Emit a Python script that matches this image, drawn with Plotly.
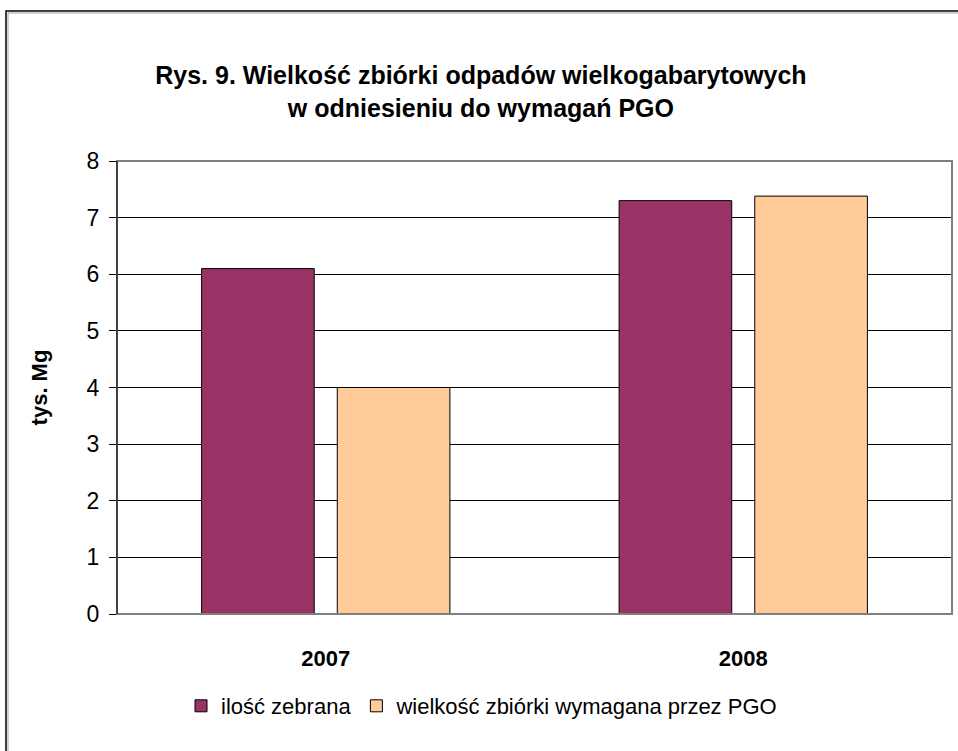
import plotly.graph_objects as go

categories = ["2007", "2008"]
zebrana = [6.1, 7.3]
wymagana = [4.0, 7.38]
series_names = ["ilość zebrana", "wielkość zbiórki wymagana przez PGO"]
y_ticks = [0, 1, 2, 3, 4, 5, 6, 7, 8]

W, H = 958, 751
L, R, T, B = 117, 6, 161, 137
pw = W - L - R
ph = H - T - B

def px(x):
    return (x - L) / pw

def py(y):
    return (H - B - y) / ph

FONT = "Liberation Sans, Arial, sans-serif"

fig = go.Figure()
fig.add_trace(go.Bar(x=categories, y=zebrana, name=series_names[0],
                     marker=dict(color="#993366", line=dict(color="#000000", width=1))))
fig.add_trace(go.Bar(x=categories, y=wymagana, name=series_names[1],
                     marker=dict(color="#FFCC99", line=dict(color="#000000", width=1))))

fig.update_layout(
    width=W, height=H,
    margin=dict(l=L, r=R, t=T, b=B),
    paper_bgcolor="white", plot_bgcolor="white",
    font=dict(family=FONT, color="#000000", size=22),
    barmode="group", bargap=0.35, bargroupgap=0.17,
    title=dict(text="<b>Rys. 9. Wielkość zbiórki odpadów wielkogabarytowych<br>w odniesieniu do wymagań PGO</b>",
               x=0.502, xanchor="center", y=1 - 84 / H, yanchor="middle",
               font=dict(size=25, family=FONT)),
    showlegend=True,
    legend=dict(orientation="h", x=px(482), xanchor="center", y=py(706), yanchor="middle",
                font=dict(size=22), itemwidth=30, traceorder="normal", bgcolor="rgba(0,0,0,0)"),
    xaxis=dict(showgrid=False, ticks="", tickfont=dict(size=22),
               tickprefix="<b>", ticksuffix="</b>", ticklabelstandoff=29,
               showline=False, zeroline=False),
    yaxis=dict(range=[0, 8], tickvals=y_ticks, showgrid=True, gridcolor="#000000", gridwidth=1,
               ticks="outside", ticklen=7, tickcolor="#000000", tickfont=dict(size=23),
               ticklabelstandoff=5,
               showline=True, linecolor="#000000", linewidth=1, zeroline=False,
               title=dict(text="<b>tys. Mg</b>", font=dict(size=22), standoff=32)),
    shapes=[
        dict(type="rect", xref="paper", yref="paper", x0=0, x1=1, y0=0, y1=1,
             line=dict(color="#808080", width=2), layer="above"),
        dict(type="line", xref="paper", yref="paper", x0=0, x1=0, y0=0, y1=1,
             line=dict(color="#000000", width=1), layer="above"),
        dict(type="rect", xref="paper", yref="paper", x0=px(6), x1=px(962), y0=py(11), y1=py(760),
             line=dict(color="#000000", width=1.5), layer="below"),
        dict(type="rect", xref="paper", yref="paper", x0=px(8), x1=px(960), y0=py(13), y1=py(758),
             line=dict(color="#A0A0A0", width=1), layer="below"),
    ],
)

fig.write_html("out.html", config={"displayModeBar": False},
               post_script="document.body.style.margin='0';document.body.style.overflow='hidden';")
